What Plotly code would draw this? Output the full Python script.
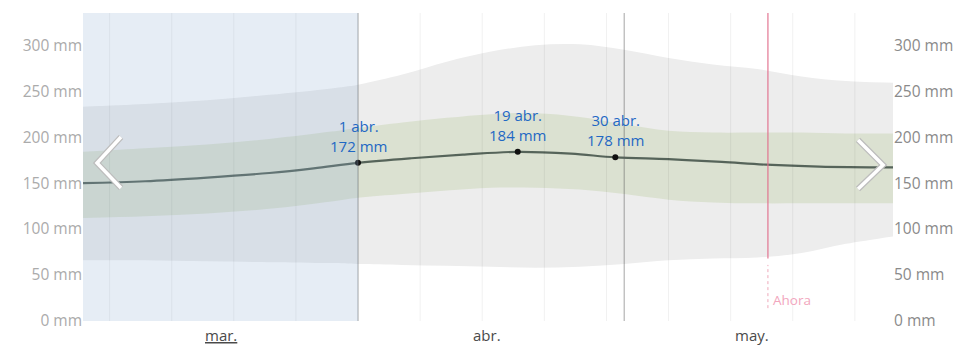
import plotly.graph_objects as go

# ---- data (x = days since 1 April) ----
band_days = [-31, -24, -17, -10, -3, 0, 5, 10, 15, 20, 25, 30, 35, 40, 45, 50, 55, 61]
p10 = [66, 66, 65, 64, 63, 62, 61, 60, 59, 58, 59, 62, 66, 68, 69, 74, 84, 93]
p90 = [233, 236, 240, 246, 253, 257, 268, 282, 293, 300, 301, 295, 286, 279, 274, 266, 261, 259]
p25 = [112, 114, 117, 122, 130, 134, 138, 142, 145, 145, 143, 138, 132, 129, 128, 128, 128, 128]
p75 = [184, 188, 192, 198, 206, 210, 216, 221, 225, 226, 222, 214, 207, 205, 205, 205, 204, 204]

line_days = [-31, -24, -17, -10, -5, 0, 6, 12, 18, 24, 29, 35, 41, 46, 52, 61]
line_mm = [150, 152, 156, 161, 166, 172, 177, 181, 184, 182, 178, 176, 173, 170, 168, 167]

point_days = [0, 18, 29]
point_mm = [172, 184, 178]
point_dates = ["1 abr.", "19 abr.", "30 abr."]

month_labels = ["<u>mar.</u>", "abr.", "may."]
month_label_days = [-15.5, 14.5, 44.4]
month_start_days = [0, 30]
week_days = [-28, -21, -14, -7, 7, 14, 21, 28, 35, 42, 49, 56]
now_day = 46.2
y_ticks = [0, 50, 100, 150, 200, 250, 300]
y_tick_text = [f"{v} mm" for v in y_ticks]

X_RANGE = [-31, 60.3]
Y_RANGE = [0, 335]

FONT = "Open Sans"
OFF = 8  # page body margin
W, H = 978 - OFF, 347 - OFF

fig = go.Figure()

fig.add_trace(go.Scatter(x=band_days, y=p10, mode="lines", line=dict(width=0, shape="spline"),
                         hoverinfo="skip", showlegend=False))
fig.add_trace(go.Scatter(x=band_days, y=p90, mode="lines", line=dict(width=0, shape="spline"),
                         fill="tonexty", fillcolor="#ededed", hoverinfo="skip", showlegend=False))
fig.add_trace(go.Scatter(x=band_days, y=p25, mode="lines", line=dict(width=0, shape="spline"),
                         hoverinfo="skip", showlegend=False))
fig.add_trace(go.Scatter(x=band_days, y=p75, mode="lines", line=dict(width=0, shape="spline"),
                         fill="tonexty", fillcolor="#dbe1d1", hoverinfo="skip", showlegend=False))

fig.add_trace(go.Scatter(x=line_days, y=line_mm, mode="lines",
                         line=dict(color="#56645a", width=2.2, shape="spline"),
                         hoverinfo="skip", showlegend=False))
fig.add_trace(go.Scatter(x=point_days, y=point_mm, mode="markers",
                         marker=dict(color="#111111", size=6),
                         hoverinfo="skip", showlegend=False))
# invisible trace to activate right axis
fig.add_trace(go.Scatter(x=line_days, y=line_mm, yaxis="y2", mode="lines",
                         line=dict(width=0), opacity=0, hoverinfo="skip", showlegend=False))

shapes = []
for d in week_days:
    shapes.append(dict(type="line", xref="x", yref="paper", x0=d, x1=d, y0=0, y1=1,
                       line=dict(color="rgba(0,0,0,0.06)", width=1), layer="above"))
for d in month_start_days:
    shapes.append(dict(type="line", xref="x", yref="paper", x0=d, x1=d, y0=0, y1=1,
                       line=dict(color="rgba(90,90,90,0.55)", width=1), layer="above"))
shapes.append(dict(type="rect", xref="x", yref="paper", x0=X_RANGE[0], x1=0, y0=0, y1=1,
                   fillcolor="rgba(143,171,211,0.22)", line=dict(width=0), layer="above"))
shapes.append(dict(type="line", xref="x", yref="y", x0=now_day, x1=now_day, y0=68, y1=Y_RANGE[1],
                   line=dict(color="rgba(225,110,140,0.75)", width=1.5), layer="above"))
shapes.append(dict(type="line", xref="x", yref="y", x0=now_day, x1=now_day, y0=14, y1=61,
                   line=dict(color="rgba(225,110,140,0.6)", width=1, dash="dot"), layer="above"))

# navigation chevrons (window pixel geometry converted to paper coords)
L, R, T, B = 83, 893, 13, 321
def pp(px, py):
    return (px - L) / (R - L), (B - py) / (B - T)

def chevron(pts):
    path = "M " + " L ".join(f"{pp(*p)[0]:.4f},{pp(*p)[1]:.4f}" for p in pts)
    return [
        dict(type="path", xref="paper", yref="paper", path=path,
             line=dict(color="#bdbdbd", width=6), layer="above"),
        dict(type="path", xref="paper", yref="paper", path=path,
             line=dict(color="#ffffff", width=3.5), layer="above"),
    ]

shapes += chevron([(121, 137), (97, 163), (121, 188)])
shapes += chevron([(858, 140), (883, 165), (858, 189)])

annotations = []
for d, v, lab in zip(point_days, point_mm, point_dates):
    annotations.append(dict(x=d, y=v, xref="x", yref="y", text=f"{lab}<br>{v} mm",
                            showarrow=False, yanchor="bottom", yshift=5,
                            font=dict(family=FONT, size=15, color="#1f68c4")))
for d, lab in zip(month_label_days, month_labels):
    annotations.append(dict(x=d, y=0, xref="x", yref="paper", text=lab, showarrow=False,
                            yanchor="top", yshift=-2,
                            font=dict(family=FONT, size=15, color="#4a4a4a")))
annotations.append(dict(x=now_day, y=23, xref="x", yref="y", text="Ahora", showarrow=False,
                        xanchor="left", xshift=3,
                        font=dict(family=FONT, size=13.5, color="#f2a6bd")))

fig.update_layout(
    width=W, height=H,
    margin=dict(l=L - OFF, r=W - (R - OFF), t=T - OFF, b=H - (B - OFF)),
    paper_bgcolor="white", plot_bgcolor="white",
    showlegend=False,
    xaxis=dict(range=X_RANGE, showgrid=False, zeroline=False, showticklabels=False,
               showline=False, fixedrange=True),
    yaxis=dict(range=Y_RANGE, showgrid=False, zeroline=False, showline=False,
               tickmode="array", tickvals=y_ticks, ticktext=y_tick_text, ticks="",
               tickfont=dict(family=FONT, size=15.5, color="#ababab")),
    yaxis2=dict(range=Y_RANGE, overlaying="y", side="right", showgrid=False, zeroline=False,
                showline=False, tickmode="array", tickvals=y_ticks, ticktext=y_tick_text, ticks="",
                tickfont=dict(family=FONT, size=15.5, color="#8a8a8a")),
    shapes=shapes,
    annotations=annotations,
)

fig.write_html("out.html")
